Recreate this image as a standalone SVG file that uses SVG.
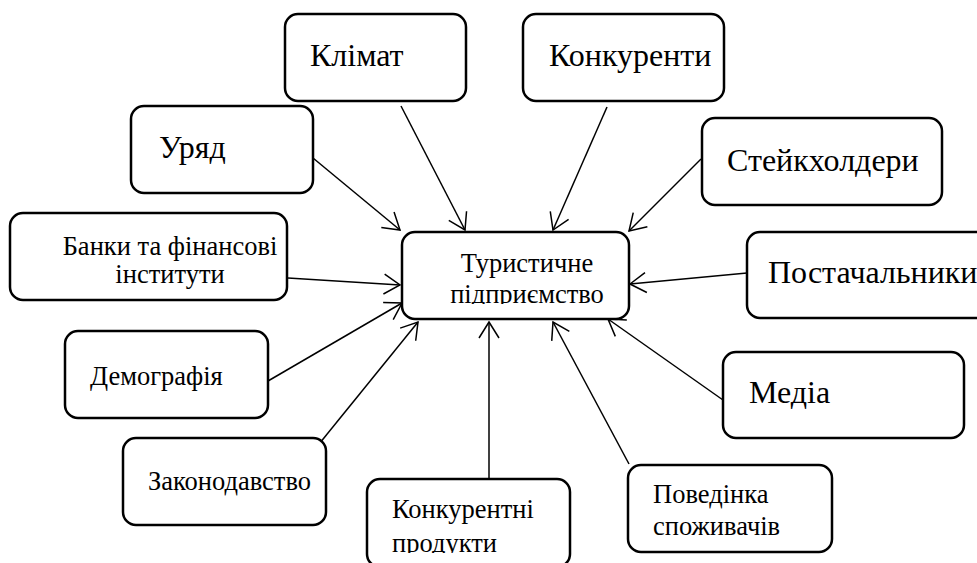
<svg xmlns="http://www.w3.org/2000/svg" width="977" height="563" viewBox="0 0 977 563">
<style>
.box{fill:#fff;stroke:#000;stroke-width:2.5}
text{fill:#000}
.big{font-size:32px}
.sm{font-size:26.5px}
.c{stroke:#000;stroke-width:1.5;fill:none;marker-end:url(#arr)}
</style>
<defs>
<marker id="arr" markerUnits="userSpaceOnUse" markerWidth="24" markerHeight="24" refX="0" refY="0" viewBox="-20 -12 22 24" orient="auto" overflow="visible">
<path d="M-16,-10 L0,0 L-16,10" fill="none" stroke="#000" stroke-width="1.5"/>
</marker>
<clipPath id="clipC"><rect x="402" y="232" width="227" height="72"/></clipPath>
<clipPath id="clipP"><rect x="367" y="479" width="203" height="74"/></clipPath>
</defs>
<rect width="977" height="563" fill="#fff"/>
<g id="connectors">
<line class="c" x1="313" y1="158" x2="400" y2="230"/>
<line class="c" x1="401" y1="106" x2="465" y2="230"/>
<line class="c" x1="288" y1="278" x2="400" y2="285"/>
<line class="c" x1="607" y1="107" x2="553" y2="230"/>
<line class="c" x1="701" y1="159" x2="629" y2="231"/>
<line class="c" x1="747" y1="273" x2="630" y2="284"/>
<line class="c" x1="723" y1="400" x2="608" y2="319"/>
<line class="c" x1="629" y1="464" x2="553" y2="322"/>
<line class="c" x1="489" y1="479" x2="489" y2="322"/>
<line class="c" x1="315" y1="449" x2="418" y2="322"/>
<line class="c" x1="268" y1="381" x2="402" y2="303"/>
</g>
<g font-family="Liberation Serif, Times New Roman, DejaVu Serif, serif">
<g id="center">
<rect class="box" x="402" y="232" width="227" height="87" rx="13"/>
<g clip-path="url(#clipC)">
<text class="sm" x="527" y="272" text-anchor="middle">Туристичне</text>
<text class="sm" x="527" y="303" text-anchor="middle">підприємство</text>
</g>
</g>
<g id="klimat">
<rect class="box" x="285" y="14" width="181" height="87" rx="13"/>
<text class="big" x="310" y="66">Клімат</text>
</g>
<g id="uryad">
<rect class="box" x="131" y="106" width="182" height="87" rx="13"/>
<text class="big" x="159" y="158">Уряд</text>
</g>
<g id="banky">
<rect class="box" x="10" y="213" width="277" height="87" rx="13"/>
<text class="sm" x="170" y="255" text-anchor="middle">Банки та фінансові</text>
<text class="sm" x="170" y="283" text-anchor="middle">інститути</text>
</g>
<g id="konkurenty">
<rect class="box" x="523" y="14" width="201" height="87" rx="13"/>
<text class="big" x="549" y="66">Конкуренти</text>
</g>
<g id="steikholdery">
<rect class="box" x="702" y="118" width="240" height="87" rx="13"/>
<text class="big" x="727" y="171">Стейкхолдери</text>
</g>
<g id="postachalnyky">
<rect class="box" x="747" y="232" width="250" height="86" rx="13"/>
<text class="big" x="768" y="283" font-size="30">Постачальники</text>
</g>
<g id="media">
<rect class="box" x="723" y="352" width="241" height="86" rx="13"/>
<text class="big" x="749" y="403">Медіа</text>
</g>
<g id="povedinka">
<rect class="box" x="628" y="465" width="204" height="87" rx="13"/>
<text class="sm" x="653" y="503">Поведінка</text>
<text class="sm" x="653" y="535">споживачів</text>
</g>
<g id="konkurentni">
<rect class="box" x="367" y="479" width="203" height="88" rx="13"/>
<g clip-path="url(#clipP)">
<text class="sm" x="392" y="518">Конкурентні</text>
<text class="sm" x="392" y="552">продукти</text>
</g>
</g>
<g id="zakonodavstvo">
<rect class="box" x="123" y="438" width="203" height="87" rx="13"/>
<text class="sm" x="148" y="490">Законодавство</text>
</g>
<g id="demografiya">
<rect class="box" x="65" y="331" width="203" height="87" rx="13"/>
<text class="sm" x="90" y="385">Демографія</text>
</g>
</g>
</svg>
